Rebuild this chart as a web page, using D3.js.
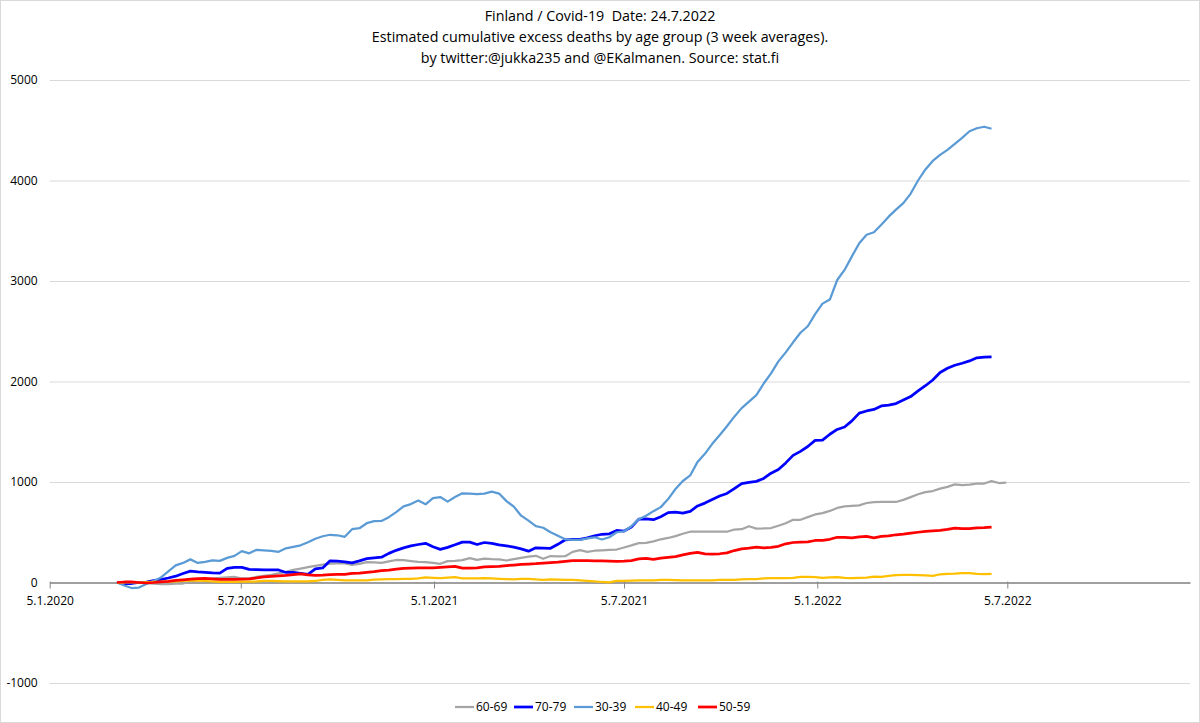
<!DOCTYPE html>
<html lang="en">

<head>
    <script src="https://d3js.org/d3.v7.min.js"></script>
    <meta charset="utf-8" />
    <style>
        body { margin: 0; background: #fff; }
        text { font-family: "Liberation Sans Narrow", "Open Sans", sans-serif; fill: #000; }
    </style>
</head>

<body>
    <script>

        const w = 1200;
        const h = 723;

        // weekly points (3 week averages), first week starts 9.3.2020
        const startDate = "2020-03-09";

        const seriesNames = ["60-69", "70-79", "30-39", "40-49", "50-59"];
        const seriesColors = ["#A5A5A5", "#0000FF", "#5B9BD5", "#FFC000", "#FF0000"];

        const age60_69 = [0, 0, -5, 0, -5, -10, -15, -15, -12, -10, 10, 20, 30, 38, 45, 50, 55, 40, 42, 55,
            65, 75, 90, 105, 125, 138, 152, 166, 178, 188, 190, 190, 176, 185, 203, 200, 196, 210, 224, 222,
            213, 205, 203, 196, 186, 213, 215, 222, 243, 226, 238, 232, 230, 219, 232, 246, 258, 266, 236, 263,
            260, 262, 305, 322, 304, 316, 320, 325, 328, 348, 369, 392, 395, 410, 430, 443, 462, 485, 505, 505,
            505, 505, 505, 505, 527, 530, 560, 536, 538, 542, 565, 590, 624, 624, 650, 677, 690, 712, 742, 757,
            762, 768, 791, 800, 801, 801, 801, 822, 850, 878, 900, 910, 934, 952, 977, 968, 973, 983, 985, 1008,
            990, 993];

        const age70_79 = [0, -10, -10, 0, 5, 20, 30, 45, 63, 90, 113, 105, 100, 95, 93, 140, 150, 150, 130, 128,
            125, 125, 125, 100, 100, 90, 80, 135, 145, 216, 212, 205, 195, 215, 237, 245, 252, 290, 320, 345,
            365, 378, 390, 355, 330, 350, 375, 402, 402, 378, 398, 390, 375, 365, 352, 335, 312, 345, 342, 340,
            380, 425, 428, 430, 445, 465, 480, 485, 518, 512, 551, 630, 634, 625, 655, 695, 700, 690, 707, 762,
            790, 825, 860, 886, 935, 983, 997, 1006, 1035, 1088, 1125, 1190, 1265, 1305, 1353, 1414, 1416, 1475, 1523, 1547,
            1608, 1685, 1707, 1722, 1757, 1765, 1780, 1815, 1850, 1906, 1958, 2015, 2090, 2132, 2162, 2182, 2205, 2236, 2242, 2245];

        const age30_39 = [0, -30, -55, -50, -15, 15, 50, 110, 170, 195, 230, 195, 205, 220, 215, 245, 265, 312, 290, 325,
            320, 315, 305, 340, 355, 370, 400, 435, 460, 475, 470, 455, 530, 540, 590, 610, 612, 650, 700, 757,
            780, 815, 778, 840, 850, 805, 850, 887, 885, 880, 885, 905, 885, 810, 755, 665, 615, 560, 545, 500,
            465, 430, 425, 425, 440, 450, 428, 450, 500, 510, 560, 630, 665, 710, 750, 830, 930, 1010, 1065, 1200,
            1280, 1380, 1465, 1555, 1650, 1735, 1800, 1865, 1980, 2080, 2200, 2290, 2390, 2485, 2550, 2670, 2775, 2815, 3010, 3110,
            3245, 3375, 3460, 3485, 3560, 3640, 3710, 3775, 3870, 4000, 4110, 4195, 4255, 4305, 4365, 4425, 4490, 4520, 4535, 4515];

        const age40_49 = [0, 0, 2, 0, 3, 5, 5, 8, 10, 15, 20, 18, 17, 10, 7, 6, 7, 8, 8, 10,
            15, 17, 13, 10, 10, 10, 10, 15, 25, 30, 25, 20, 20, 20, 22, 28, 32, 33, 33, 35,
            37, 42, 50, 46, 43, 48, 53, 42, 40, 42, 43, 40, 37, 33, 30, 36, 35, 30, 27, 30,
            28, 26, 27, 22, 17, 12, 5, 2, 17, 17, 18, 20, 20, 22, 25, 27, 24, 22, 20, 22,
            20, 22, 25, 27, 26, 32, 33, 33, 40, 43, 43, 43, 45, 57, 55, 53, 47, 50, 53, 46,
            43, 46, 48, 58, 55, 65, 74, 76, 75, 73, 72, 66, 82, 86, 88, 94, 93, 85, 84, 86];

        const age50_59 = [0, 5, 7, 0, -5, 0, 7, 12, 20, 27, 33, 38, 40, 35, 30, 30, 30, 33, 37, 45,
            55, 60, 65, 70, 78, 86, 75, 70, 73, 78, 80, 82, 90, 93, 100, 108, 118, 124, 132, 140,
            143, 145, 146, 146, 150, 155, 160, 143, 143, 145, 156, 158, 160, 168, 174, 180, 184, 187, 192, 198,
            203, 210, 218, 218, 217, 216, 215, 212, 210, 212, 218, 235, 239, 230, 242, 250, 258, 275, 290, 300,
            285, 282, 286, 295, 318, 335, 342, 352, 345, 350, 360, 385, 398, 402, 405, 418, 420, 430, 450, 448,
            445, 455, 458, 445, 458, 465, 475, 482, 492, 500, 508, 514, 518, 528, 542, 536, 536, 544, 546, 551];

        const seriesValues = [age60_69, age70_79, age30_39, age40_49, age50_59];
        const seriesWidths = [2.25, 2.75, 2.25, 2.25, 2.75];

        const xTicks = ["2020-01-05", "2020-07-05", "2021-01-05", "2021-07-05", "2022-01-05", "2022-07-05"];
        const yTicks = [-1000, 0, 1000, 2000, 3000, 4000, 5000];

        const titleLines = [
            "Finland / Covid-19  Date: 24.7.2022",
            "Estimated cumulative excess deaths by age group (3 week averages).",
            "by twitter:@jukka235 and @EKalmanen. Source: stat.fi"
        ];

        const parse = d3.timeParse("%Y-%m-%d");
        const start = parse(startDate);

        const xScale = d3.scaleTime()
            .domain([parse("2020-01-05"), parse("2022-12-26")])
            .range([49.7, 1190]);

        const yScale = d3.scaleLinear()
            .domain([-1000, 5000])
            .range([683, 80]);

        const svg = d3.select("body")
            .append("svg")
            .attr("width", w)
            .attr("height", h);

        svg.append("rect")
            .attr("x", 0.5).attr("y", 0.5)
            .attr("width", w - 1).attr("height", h - 1)
            .attr("fill", "#fff")
            .attr("stroke", "#D9D9D9");

        // title
        svg.selectAll(".title")
            .data(titleLines)
            .enter()
            .append("text")
            .attr("class", "title")
            .attr("x", w / 2)
            .attr("y", (d, i) => 21 + i * 21)
            .attr("text-anchor", "middle")
            .style("font-size", "14.3px")
            .style("white-space", "pre")
            .text(d => d);

        // gridlines + y labels
        const yAxis = d3.axisLeft(yScale)
            .tickValues(yTicks)
            .tickSize(-(1190 - 49.7))
            .tickPadding(12)
            .tickFormat(d => String(d));

        const gy = svg.append("g")
            .attr("transform", "translate(49.7,0)")
            .call(yAxis);
        gy.select(".domain").remove();
        gy.selectAll(".tick line").attr("stroke", "#D9D9D9");
        gy.selectAll(".tick text")
            .style("font-size", "12px")
            .style("font-family", "\"Liberation Sans Narrow\", \"Open Sans\", sans-serif")
            .attr("fill", "#000");

        // x axis at zero
        const xAxis = d3.axisBottom(xScale)
            .tickValues(xTicks.map(parse))
            .tickSize(6)
            .tickSizeOuter(0)
            .tickPadding(8)
            .tickFormat(d3.timeFormat("%-d.%-m.%Y"));

        const gx = svg.append("g")
            .attr("transform", "translate(0," + yScale(0) + ")")
            .call(xAxis);
        gx.select(".domain").attr("stroke", "#868686").attr("stroke-width", 1.5);
        gx.selectAll(".tick line").attr("stroke", "#868686").attr("y1", -1);
        gx.selectAll(".tick text")
            .style("font-size", "12px")
            .style("font-family", "\"Liberation Sans Narrow\", \"Open Sans\", sans-serif")
            .attr("fill", "#000");

        // lines
        const line = d3.line()
            .x((d, i) => xScale(d3.timeDay.offset(start, 7 * i)))
            .y(d => yScale(d));

        seriesValues.forEach((vals, k) => {
            svg.append("path")
                .datum(vals)
                .attr("fill", "none")
                .attr("stroke", seriesColors[k])
                .attr("stroke-width", seriesWidths[k])
                .attr("stroke-linejoin", "round")
                .attr("d", line);
        });

        // legend
        const legendX = [455, 514, 574, 635, 698];
        const legend = svg.append("g");
        seriesNames.forEach((name, k) => {
            legend.append("line")
                .attr("x1", legendX[k]).attr("x2", legendX[k] + 19)
                .attr("y1", 707).attr("y2", 707)
                .attr("stroke", seriesColors[k])
                .attr("stroke-width", seriesWidths[k]);
            legend.append("text")
                .attr("x", legendX[k] + 21)
                .attr("y", 711)
                .style("font-size", "12px")
                .text(name);
        });

    </script>
</body>

</html>
